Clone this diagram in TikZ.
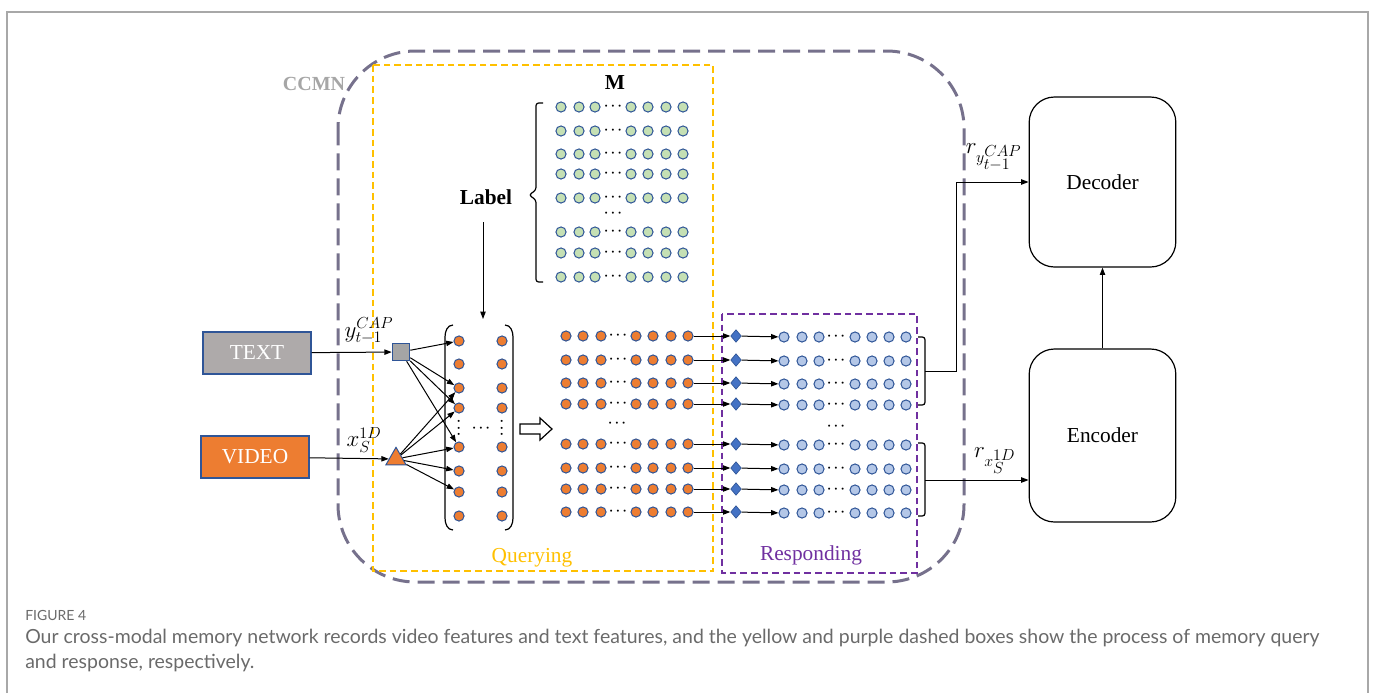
\documentclass[tikz,border=0pt]{standalone}
\usepackage{fontspec}
\setmainfont{Liberation Serif}
\newfontfamily\capfont{Lato}
\usetikzlibrary{shapes.geometric,arrows.meta}
\definecolor{dotblue}{HTML}{2F5597}
\definecolor{dblue}{HTML}{4472C4}
\definecolor{orng}{HTML}{ED7D31}
\definecolor{grn}{HTML}{C5E0B4}
\definecolor{lblue}{HTML}{B4C7E7}
\definecolor{ccmncol}{HTML}{76718C}
\definecolor{ylw}{HTML}{FFC000}
\definecolor{prp}{HTML}{7030A0}
\definecolor{boxgray}{HTML}{AEAAAA}
\definecolor{sqgray}{HTML}{A5A5A5}
\definecolor{capgray}{HTML}{6A6A6A}
\definecolor{framegray}{HTML}{A8A8A8}
\definecolor{ccmntext}{HTML}{A6A6A6}
\begin{document}
\begin{tikzpicture}[x=0.75pt,y=-0.75pt,
  dot/.style={circle,draw=dotblue,line width=0.75pt,minimum size=7.6pt,inner sep=0pt},
  od/.style={dot,fill=orng},
  gd/.style={dot,fill=grn},
  bd/.style={dot,fill=lblue},
  dia/.style={diamond,fill=dblue,draw=dotblue,line width=0.5pt,inner sep=0pt,minimum width=8pt,minimum height=9.5pt},
  arr/.style={-{Triangle[length=5.5pt,width=4pt]},line width=0.75pt},
  ell/.style={inner sep=0pt,font=\fontsize{10}{10}\selectfont\boldmath},
  bigbox/.style={draw,rounded corners=19pt,line width=0.9pt,minimum width=110pt,font=\fontsize{16}{19}\selectfont},
  inbox/.style={draw=dotblue,line width=0.9pt,minimum width=81pt,minimum height=31.5pt,text=white,font=\fontsize{16}{19}\selectfont},
  mlab/.style={inner sep=0pt,font=\fontsize{17}{20}\selectfont},
  bktline/.style={line width=0.9pt,rounded corners=2pt},
]
\useasboundingbox (0,0) rectangle (1375,693);
% outer frame
\draw[framegray,line width=1.2pt] (7,693) -- (7,12) -- (1368,12) -- (1368,693);

% CCMN dashed region
\draw[ccmncol,line width=2.25pt,dash pattern=on 12.75pt off 6pt,rounded corners=58pt] (338,51) rectangle (964,582);
\node[text=ccmntext,font=\bfseries\fontsize{15}{18}\selectfont,inner sep=0pt] (ccmn) at (314,84) {CCMN};

% querying / responding boxes
\draw[ylw,line width=0.9pt,dash pattern=on 5pt off 3pt] (373,65) rectangle (713,571);
\draw[prp,line width=0.9pt,dash pattern=on 5pt off 3pt] (722,314) rectangle (917,573);
\node[text=ylw,font=\fontsize{16}{19}\selectfont,inner sep=0pt] (qry) at (532,558) {Querying};
\node[text=prp,font=\fontsize{16}{19}\selectfont,inner sep=0pt] (rsp) at (811,555) {Responding};

% memory matrix M
\node[font=\bfseries\fontsize{16}{19}\selectfont,inner sep=0pt] (M) at (615,83) {M};
\foreach \r/\y in {1/107,2/131,3/154,4/174,5/198,6/232,7/253,8/277} {
  \foreach \c/\x in {1/561,2/579,3/595,4/631,5/648,6/666,7/683}
    \node[gd] (g\r-\c) at (\x,\y) {};
  \node[ell] (gdots\r) at (613,\y-1) {$\cdots$};
}
\node[ell] (gvd) at (613,213) {$\cdots$};
\draw[bktline] (543,103) -- (536,103) -- (536,190) -- (529,195) -- (536,200) -- (536,282) -- (543,282);
\node[font=\bfseries\fontsize{16}{19}\selectfont,inner sep=0pt] (lbl) at (486,197) {Label};
\coordinate (la) at (483,222);
\coordinate (lb) at (483,319);
\draw[arr] (la) -- (lb);

% inputs
\node[inbox,fill=boxgray] (text) at (257,353) {TEXT};
\node[inbox,fill=orng] (video) at (255,457) {VIDEO};
\node[rectangle,draw=dotblue,fill=sqgray,line width=0.9pt,minimum size=13pt,inner sep=0pt] (sq) at (401,352) {};
\node[regular polygon,regular polygon sides=3,draw=dotblue,fill=orng,line width=0.75pt,minimum size=17.5pt,inner sep=0pt] (tri) at (396,459) {};
\draw[arr] (text) -- (sq);
\draw[arr] (video) -- (tri);
\node[mlab] (ylab) at (369,331) {$y^{CAP}_{t-1}$};
\node[mlab] (xlab) at (364,440) {$x^{1D}_{S}$};

% query matrix with parentheses
\foreach \r/\y in {1/341,2/364,3/388,4/408,5/447,6/471,7/492,8/516} {
  \node[od] (l\r) at (459,\y) {};
  \node[od] (m\r) at (502,\y) {};
}
\node[ell,rotate=90] (lvd) at (459,428) {$\cdots$};
\node[ell,rotate=90] (mvd) at (502,428) {$\cdots$};
\node[ell] (lmd) at (481,428) {$\cdots$};
\draw[line width=0.9pt] (453,325) to[out=180,in=90] (445,337) -- (445,518) to[out=-90,in=180] (453,530);
\draw[line width=0.9pt] (505,325) to[out=0,in=90] (513,337) -- (513,518) to[out=-90,in=0] (505,530);

\foreach \r in {1,3,4,5} \draw[arr] (sq) -- (l\r);
\foreach \r in {3,4,5,6,7} \draw[arr] (tri) -- (l\r);

% hollow arrow
\draw[line width=0.9pt,fill=white] (520,424) -- (540,424) -- (540,418) -- (552,429) -- (540,440) -- (540,434) -- (520,434) -- cycle;

% orange rows, diamonds, blue rows
\foreach \r/\y in {1/336,2/360,3/383,4/404,5/444,6/468,7/489,8/512} {
  \foreach \c/\x in {1/566,2/583,3/601,4/636,5/653,6/671,7/688}
    \node[od] (o\r-\c) at (\x,\y) {};
  \node[ell] (odots\r) at (618,\y-1) {$\cdots$};
  \node[dia] (d\r) at (736,\y) {};
  \foreach \c/\x in {1/784,2/802,3/819,4/855,5/872,6/889,7/906}
    \node[bd] (b\r-\c) at (\x,\y+1) {};
  \node[ell] (bdots\r) at (836,\y) {$\cdots$};
  \draw[arr] (o\r-7) -- (d\r);
  \draw[arr] (d\r) -- (b\r-1);
}
\node[ell] (ovd) at (617,423) {$\cdots$};
\node[ell] (bvd) at (836,426) {$\cdots$};

% decoder / encoder
\node[bigbox,minimum height=127.5pt] (dec) at (1102.5,182) {Decoder};
\node[bigbox,minimum height=129.75pt] (enc) at (1102.5,435.5) {Encoder};
\draw[arr] (enc) -- (dec);

% output brackets
\draw[bktline] (918,337) -- (925,337) -- (925,405) -- (918,405);
\draw[bktline] (918,443) -- (925,443) -- (925,516) -- (918,516);
\coordinate (t1) at (925,371);
\coordinate (j1) at (956,371);
\coordinate (t2) at (925,480);
\draw[arr] (t1) -- (j1) |- (dec);
\draw[arr] (t2) -- (t2 -| enc.west);
\node[mlab] (rylab) at (994,157) {$r_{y^{\scriptstyle CAP}_{\scriptstyle t-1}}$};
\node[mlab] (rxlab) at (995,461) {$r_{x^{\scriptstyle 1D}_{\scriptstyle S}}$};

% caption
\node[anchor=base west,inner sep=0pt,text=capgray,font=\capfont\fontsize{10.5}{12}\selectfont] (fig) at (25,620) {FIGURE 4};
\node[anchor=base west,inner sep=0pt,text=capgray,font=\capfont\fontsize{14.6}{16}\selectfont] (cap1) at (25,643) {Our cross-modal memory network records video features and text features, and the yellow and purple dashed boxes show the process of memory query};
\node[anchor=base west,inner sep=0pt,text=capgray,font=\capfont\fontsize{14.6}{16}\selectfont] (cap2) at (25,668) {and response, respectively.};
\end{tikzpicture}
\end{document}
